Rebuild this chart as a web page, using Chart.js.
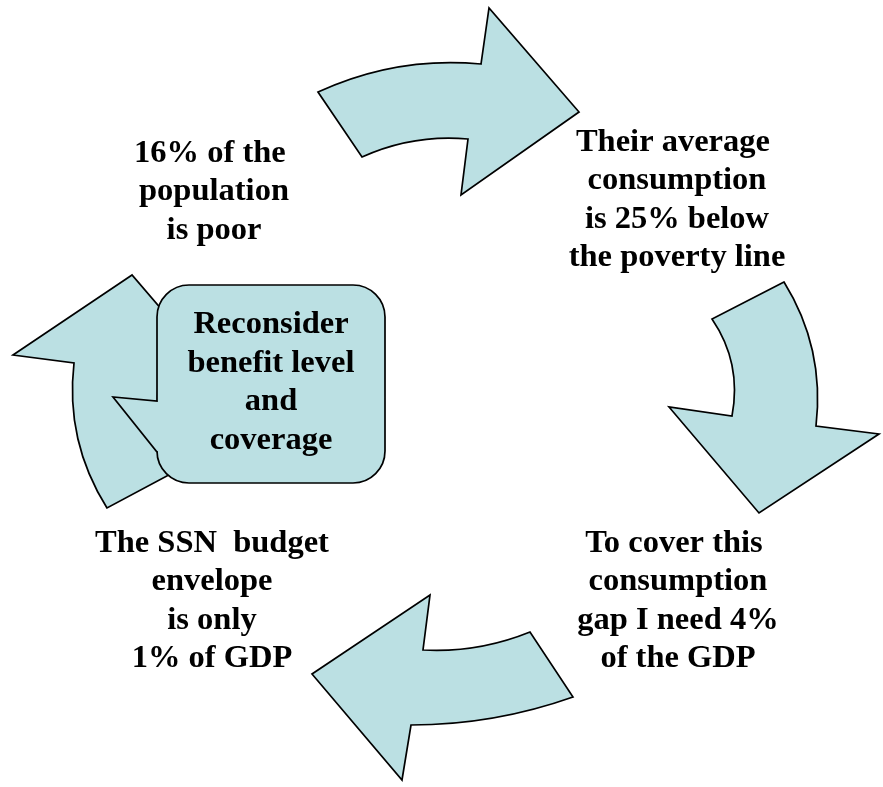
<!DOCTYPE html>
<html>
<head>
<meta charset="utf-8">
<script src="https://cdn.jsdelivr.net/npm/chart.js@4/dist/chart.umd.min.js"></script>
<style>
    html, body { margin: 0; padding: 0; background: #fff; }
    #cycle { display: block; }
</style>
</head>
<body>
<canvas id="cycle" width="883" height="787"></canvas>
<script>
// arrow outlines, in diagram units; a third entry 'c' marks a curve control point
const topArrow = [[318, 92], [396, 56, 'c'], [481, 64], [489, 8], [579, 112], [461, 195], [468, 139], [413, 134, 'c'], [362, 157]];
const rightArrow = [[784, 282], [712, 319], [742, 363, 'c'], [732, 416], [669, 407], [759, 513], [879, 434], [816, 426], [825, 348, 'c']];
const bottomArrow = [[530, 632], [478, 653, 'c'], [423, 650], [430, 595], [312, 674], [402, 780], [411, 725], [494, 725, 'c'], [573, 697]];
const leftArrow = [[132, 275], [13, 355], [74, 363], [65, 441, 'c'], [107, 508], [180, 469], [150, 425, 'c'], [160, 372], [223, 381]];

// callout: box corners, pointer tip, pointer base on the left side
const calloutBox = [157, 285, 385, 483];
const calloutTip = [113, 397];
const calloutBase = [401, 452];

const povertyLines = ['16% of the ', 'population', 'is poor'];
const consumptionLines = ['Their average ', 'consumption', 'is 25% below', 'the poverty line'];
const gapLines = ['To cover this ', 'consumption', 'gap I need 4%', 'of the GDP'];
const budgetLines = ['The SSN  budget', 'envelope', 'is only', '1% of GDP'];
const calloutLines = ['Reconsider', 'benefit level', 'and', 'coverage'];

const FILL = '#BBE0E3';
const EDGE = '#000000';
const FONT = 'bold 32.5px "Liberation Serif", "Times New Roman", serif';
const LINE_STEP = 38.6;

const textBlocks = [
    { lines: povertyLines, x: 214, y: 161.5 },
    { lines: consumptionLines, x: 677, y: 150.5 },
    { lines: gapLines, x: 678, y: 551.5 },
    { lines: budgetLines, x: 212, y: 551.5 },
    { lines: calloutLines, x: 271, y: 333 }
];

const toPoints = shape => shape.map(p => ({ x: p[0], y: p[1], ctrl: p[2] === 'c' }));

const arrowDataset = shape => ({
    data: toPoints(shape),
    showLine: false,
    pointRadius: 0,
    pointHoverRadius: 0
});

const cyclePlugin = {
    id: 'cycleShapes',
    afterDatasetsDraw(chart) {
        const ctx = chart.ctx;
        const sx = chart.scales.x;
        const sy = chart.scales.y;

        ctx.save();
        ctx.lineJoin = 'miter';
        ctx.lineWidth = 1.7;
        ctx.fillStyle = FILL;
        ctx.strokeStyle = EDGE;

        // arrows
        chart.data.datasets.forEach((ds, di) => {
            const els = chart.getDatasetMeta(di).data;
            const n = els.length;
            ctx.beginPath();
            ctx.moveTo(els[0].x, els[0].y);
            for (let i = 1; i < n; i++) {
                const p = els[i];
                if (ds.data[i].ctrl) {
                    const q = els[(i + 1) % n];
                    ctx.quadraticCurveTo(p.x, p.y, q.x, q.y);
                    i++;
                } else {
                    ctx.lineTo(p.x, p.y);
                }
            }
            ctx.closePath();
            ctx.fill();
            ctx.stroke();
        });

        // callout box with its pointer
        const left = sx.getPixelForValue(calloutBox[0]);
        const top = sy.getPixelForValue(calloutBox[1]);
        const right = sx.getPixelForValue(calloutBox[2]);
        const bottom = sy.getPixelForValue(calloutBox[3]);
        const r = 32;
        ctx.beginPath();
        ctx.moveTo(left + r, top);
        ctx.arcTo(right, top, right, bottom, r);
        ctx.arcTo(right, bottom, left, bottom, r);
        ctx.arcTo(left, bottom, left, top, r);
        ctx.lineTo(left, sy.getPixelForValue(calloutBase[1]));
        ctx.lineTo(sx.getPixelForValue(calloutTip[0]), sy.getPixelForValue(calloutTip[1]));
        ctx.lineTo(left, sy.getPixelForValue(calloutBase[0]));
        ctx.arcTo(left, top, right, top, r);
        ctx.closePath();
        ctx.fill();
        ctx.stroke();

        // labels
        ctx.fillStyle = '#000';
        ctx.font = FONT;
        ctx.textAlign = 'center';
        ctx.textBaseline = 'alphabetic';
        textBlocks.forEach(b => {
            b.lines.forEach((line, i) => {
                ctx.fillText(line, sx.getPixelForValue(b.x), sy.getPixelForValue(b.y + i * LINE_STEP));
            });
        });
        ctx.restore();
    }
};

new Chart(document.getElementById('cycle'), {
    type: 'scatter',
    data: {
        datasets: [topArrow, rightArrow, bottomArrow, leftArrow].map(arrowDataset)
    },
    options: {
        responsive: false,
        animation: false,
        layout: { padding: 0 },
        plugins: { legend: { display: false }, tooltip: { enabled: false } },
        scales: {
            x: { type: 'linear', min: 0, max: 883, display: false },
            y: { type: 'linear', min: 0, max: 787, reverse: true, display: false }
        }
    },
    plugins: [cyclePlugin]
});
</script>
</body>
</html>
